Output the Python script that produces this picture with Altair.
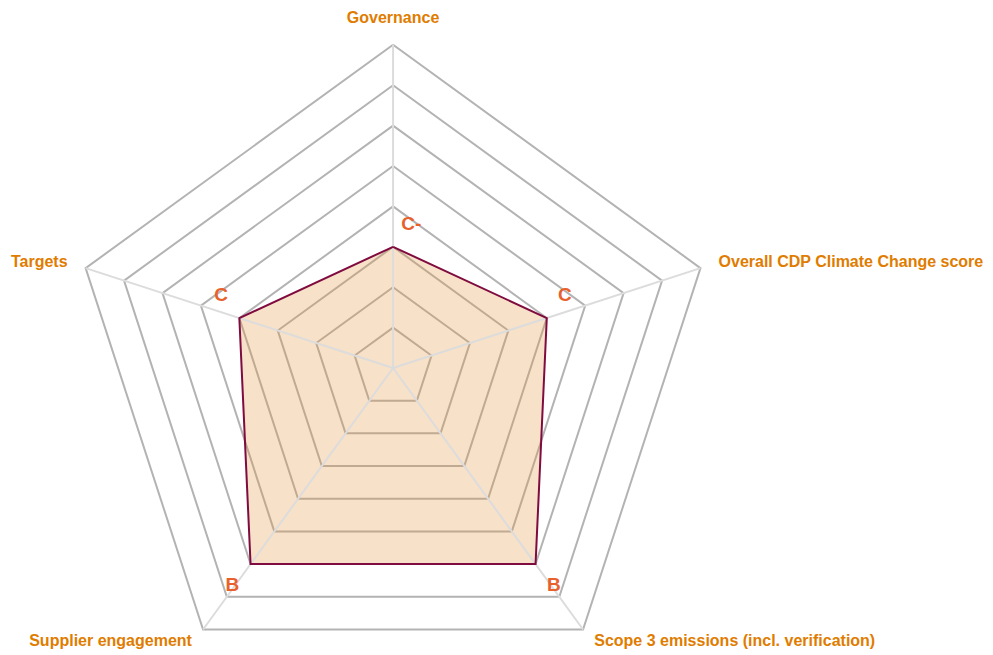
import altair as alt
import pandas as pd

categories = [
    "Governance",
    "Overall CDP Climate Change score",
    "Scope 3 emissions (incl. verification)",
    "Supplier engagement",
    "Targets",
]
scores = ["C-", "C", "B", "B", "C"]
grade_levels = ["D-", "D", "C-", "C", "B-", "B", "A-", "A"]

n = len(categories)
n_levels = len(grade_levels)

poly = pd.DataFrame([
    {"category": categories[k % n], "idx": k % n, "order": k,
     "score": scores[k % n], "value": grade_levels.index(scores[k % n]) + 1}
    for k in range(n + 1)
])
rings = pd.DataFrame([
    {"level": L, "idx": k % n, "order": k}
    for L in range(1, n_levels + 1) for k in range(n + 1)
])
spokes = pd.DataFrame([
    {"idx": i, "r": r, "order": j}
    for i in range(n) for j, r in enumerate([0, n_levels])
])
labels = pd.DataFrame([{"category": c, "idx": i} for i, c in enumerate(categories)])

ANG = f"datum.idx * 2 * PI / {n}"

xs = alt.Scale(domain=[-9.53, 14.65], nice=False, zero=False)
ys = alt.Scale(domain=[-6.906, 8.911], nice=False, zero=False)


def X(field):
    return alt.X(f"{field}:Q", scale=xs, axis=None)


def Y(field):
    return alt.Y(f"{field}:Q", scale=ys, axis=None)


ring_layer = alt.Chart(rings).transform_calculate(
    px=f"datum.level * sin({ANG})", py=f"datum.level * cos({ANG})"
).mark_line(stroke="#b3b3b3", strokeWidth=2, strokeJoin="miter").encode(
    x=X("px"), y=Y("py"), order="order:Q", detail="level:N"
)

poly_base = alt.Chart(poly).transform_calculate(
    px=f"datum.value * sin({ANG})", py=f"datum.value * cos({ANG})"
)

fill_layer = poly_base.mark_line(
    fill="#e2943a", fillOpacity=0.28, strokeOpacity=0, strokeWidth=0
).encode(x=X("px"), y=Y("py"), order="order:Q")

spoke_layer = alt.Chart(spokes).transform_calculate(
    px=f"datum.r * sin({ANG})", py=f"datum.r * cos({ANG})"
).mark_line(stroke="#dcdcdc", strokeWidth=2).encode(
    x=X("px"), y=Y("py"), order="order:Q", detail="idx:N"
)

stroke_layer = poly_base.mark_line(
    stroke="#7f0b3f", strokeWidth=2, strokeJoin="miter"
).encode(x=X("px"), y=Y("py"), order="order:Q")

score_layer = poly_base.transform_filter("datum.order < %d" % n).transform_calculate(
    lx="datum.px + (datum.px >= -0.001 ? 0.45 : -0.45)",
    ly="datum.py + (datum.py >= 0 ? 0.57 : -0.52)",
).mark_text(
    font="Liberation Sans", fontSize=19, fontWeight="bold", color="#e8612c",
    align="center", baseline="middle"
).encode(x=X("lx"), y=Y("ly"), text="score:N")

lab_base = alt.Chart(labels).transform_calculate(
    px=f"8.47 * sin({ANG})", pr=f"8.47 * cos({ANG})"
).transform_calculate(
    py="datum.pr < 0 ? datum.pr + 0.1 : datum.pr"
)
lab_style = dict(font="Liberation Sans", fontSize=16, fontWeight="bold",
                 color="#e07c00", baseline="middle")

lab_center = lab_base.transform_filter("abs(datum.px) < 0.01").mark_text(
    align="center", dy=-8, **lab_style
).encode(x=X("px"), y=Y("py"), text="category:N")
lab_left = lab_base.transform_filter("datum.px >= 0.01").mark_text(
    align="left", **lab_style
).encode(x=X("px"), y=Y("py"), text="category:N")
lab_right = lab_base.transform_filter("datum.px <= -0.01").mark_text(
    align="right", **lab_style
).encode(x=X("px"), y=Y("py"), text="category:N")

chart = alt.layer(
    ring_layer, fill_layer, spoke_layer, stroke_layer, score_layer,
    lab_center, lab_left, lab_right
).properties(
    width=977, height=639, padding=0,
    autosize=alt.AutoSizeParams(type="pad")
).configure_view(stroke=None)

chart.save("out.html", embed_options={"renderer": "svg", "actions": False})
